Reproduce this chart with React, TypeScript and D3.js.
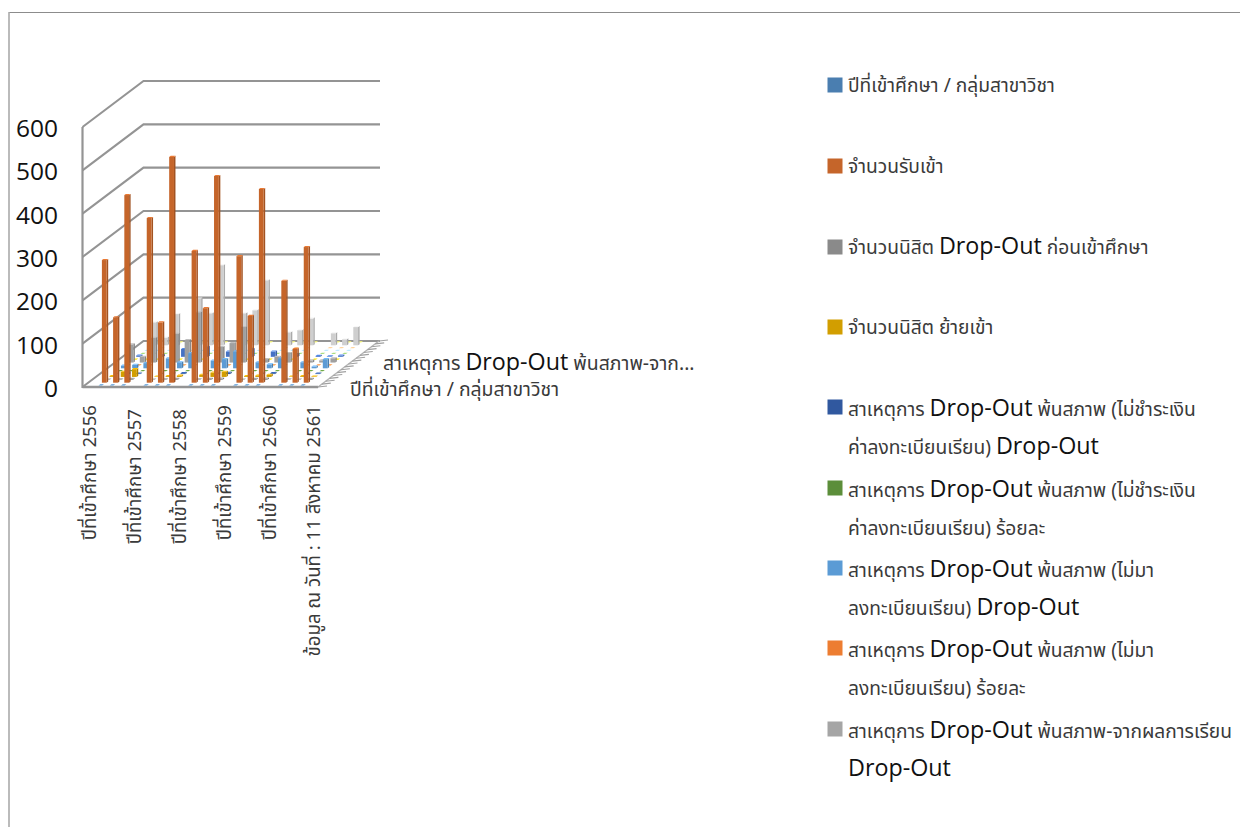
import React from "react";
import * as d3 from "d3";

const yTicks = [0, 100, 200, 300, 400, 500, 600];
const tickLabels = [
  "ปีที่เข้าศึกษา 2556",
  "ปีที่เข้าศึกษา 2557",
  "ปีที่เข้าศึกษา 2558",
  "ปีที่เข้าศึกษา 2559",
  "ปีที่เข้าศึกษา 2560",
  "ข้อมูล ณ วันที่ : 11 สิงหาคม 2561",
];
const labelCats = [0, 4, 8, 12, 16, 20];
const programCats = [1, 2, 3, 5, 6, 7, 9, 10, 11, 13, 14, 15, 17, 18, 19];

const legendNames = [
  ["ปีที่เข้าศึกษา / กลุ่มสาขาวิชา"],
  ["จำนวนรับเข้า"],
  ["จำนวนนิสิต Drop-Out ก่อนเข้าศึกษา"],
  ["จำนวนนิสิต ย้ายเข้า"],
  ["สาเหตุการ Drop-Out พ้นสภาพ (ไม่ชำระเงิน", "ค่าลงทะเบียนเรียน) Drop-Out"],
  ["สาเหตุการ Drop-Out พ้นสภาพ (ไม่ชำระเงิน", "ค่าลงทะเบียนเรียน) ร้อยละ"],
  ["สาเหตุการ Drop-Out พ้นสภาพ (ไม่มา", "ลงทะเบียนเรียน) Drop-Out"],
  ["สาเหตุการ Drop-Out พ้นสภาพ (ไม่มา", "ลงทะเบียนเรียน) ร้อยละ"],
  ["สาเหตุการ Drop-Out พ้นสภาพ-จากผลการเรียน", "Drop-Out"],
];
const legendY = [85, 166, 247, 327, 407, 488, 568, 648, 729];
const legendColors = ["#4A7EB0", "#C5652A", "#8A8A8A", "#D29E00", "#30589F", "#5C8E3A", "#5B9BD5", "#ED7D31", "#A5A5A5"];
const seriesColors = [
  "#4A7EB0", "#C5652A", "#8A8A8A", "#D29E00", "#30589F", "#5C8E3A", "#5B9BD5", "#ED7D31",
  "#A0A0A0", "#FFC000", "#4472C4", "#8DB96B", "#9DC3E6", "#F4B183", "#CFCFCF", "#FFD966",
];

const s0 = [0, 0, 0, 0, 0, 0, 0, 0, 0, 0, 0, 0, 0, 0, 0];
const s1 = [283, 151, 433, 380, 139, 521, 304, 172, 477, 292, 154, 447, 235, 78, 313];
const s2 = [0, 1, 2, 0, 1, 2, 1, 2, 3, 0, 2, 3, 1, 0, 2];
const s3 = [2, 12, 18, 1, 2, 3, 5, 10, 12, 2, 3, 5, 1, 2, 1];
const s4 = [0, 1, 1, 0, 1, 2, 0, 1, 3, 0, 1, 2, 0, 1, 1];
const s5 = [0, 0, 0, 0, 0, 0, 0, 0, 0, 0, 0, 0, 0, 0, 0];
const s6 = [6, 8, 12, 23, 14, 35, 18, 21, 39, 14, 9, 23, 14, 4, 21];
const s7 = [0, 0, 0, 0, 0, 0, 0, 0, 0, 0, 0, 0, 0, 0, 0];
const s8 = [42, 13, 57, 66, 52, 116, 36, 45, 82, 8, 13, 22, 5, 5, 10];
const s9 = [0, 0, 0, 0, 0, 0, 0, 0, 0, 0, 0, 0, 0, 0, 0];
const s10 = [3, 2, 4, 18, 8, 23, 12, 10, 18, 12, 4, 6, 2, 1, 3];
const s11 = [0, 0, 0, 0, 0, 0, 0, 0, 0, 0, 0, 0, 0, 0, 0];
const s12 = [0, 0, 0, 0, 0, 0, 0, 0, 0, 0, 0, 0, 0, 0, 0];
const s13 = [0, 0, 0, 0, 0, 0, 0, 0, 0, 0, 0, 0, 0, 0, 0];
const s14 = [53, 18, 72, 108, 74, 185, 74, 81, 150, 30, 35, 62, 28, 14, 42];
const s15 = [0, 0, 0, 0, 0, 0, 0, 0, 0, 0, 0, 0, 0, 0, 0];
const allSeries = [s0, s1, s2, s3, s4, s5, s6, s7, s8, s9, s10, s11, s12, s13, s14, s15];

const axisBottom = 387;
const xScale = d3.scaleBand<number>().domain(d3.range(21)).range([82.5, 318]);
const rowScale = d3.scaleBand<number>().domain(d3.range(16)).range([0, 1]);
const depthDx = d3.scaleLinear().domain([0, 1]).range([0, 61]);
const depthDy = d3.scaleLinear().domain([0, 1]).range([0, -46]);
const yH = d3.scaleLinear().domain([0, 600]).range([0, 260]);

const thaiFont = '"Noto Sans Thai", "Noto Sans", "Open Sans", "DejaVu Sans", sans-serif';
const latinFont = '"Open Sans", "Noto Sans", sans-serif';

function Rich({ text, x, y, size, latin }: { text: string; x: number; y: number; size: number; latin: number }) {
  const parts = text.split(/(Drop-Out)/).filter(Boolean);
  return (
    <text x={x} y={y} fontFamily={thaiFont} fontSize={size} fill="#3a3a3a">
      {parts.map((p, i) =>
        p === "Drop-Out" ? (
          <tspan key={i} fontFamily={latinFont} fontSize={latin} fill="#111">{p}</tspan>
        ) : (
          <tspan key={i}>{p}</tspan>
        )
      )}
    </text>
  );
}

function Bar({ c, r, v, color }: { c: number; r: number; v: number; color: string }) {
  const f = (rowScale(r) as number) + rowScale.bandwidth() / 2;
  const cx = (xScale(c) as number) + xScale.bandwidth() / 2 + depthDx(f);
  const by = axisBottom + depthDy(f);
  const w = v > 0 ? 4.8 : 3.6;
  const dx = v > 0 ? 1.5 : 1.8;
  const dy = v > 0 ? -1.1 : -1.3;
  const h = yH(v);
  const x0 = cx - w / 2 - dx / 2;
  const x1 = x0 + w;
  const col = d3.color(color)!;
  const top = by - h;
  return (
    <g>
      <polygon points={`${x1},${by} ${x1 + dx},${by + dy} ${x1 + dx},${top + dy} ${x1},${top}`} fill={col.darker(0.55).toString()} />
      <rect x={x0} y={top} width={w} height={h} fill={color} />
      <polygon points={`${x0},${top} ${x0 + dx},${top + dy} ${x1 + dx},${top + dy} ${x1},${top}`} fill={col.brighter(0.5).toString()} />
    </g>
  );
}

export default function App() {
  const gridColor = "#949494";
  const x0 = 82.5;
  const x1 = 318;
  const backDx = depthDx(1);
  const backDy = depthDy(1);
  const rowEdges = d3.range(0, 17);
  return (
    <svg width={1240} height={827} viewBox="0 0 1240 827" style={{ position: "absolute", left: 0, top: 0, background: "#fff" }}>
      <defs>
        <filter id="soft" x="-5%" y="-5%" width="110%" height="110%">
          <feGaussianBlur stdDeviation={0.35} />
        </filter>
      </defs>
      <line x1={9} y1={12.5} x2={1240} y2={12.5} stroke="#8c8c8c" strokeWidth={1.2} />
      <line x1={9} y1={12} x2={9} y2={827} stroke="#aaaaaa" strokeWidth={1.6} />

      {yTicks.map((t) => {
        const y = axisBottom - yH(t);
        return (
          <g key={t}>
            <polyline points={`${x0},${y} ${x0 + backDx},${y + backDy} ${x1 + backDx + 1},${y + backDy}`} fill="none" stroke={gridColor} strokeWidth={2.1} />
            <text x={58} y={y + 10} textAnchor="end" fontFamily={latinFont} fontSize={24.5} fill="#111">{t}</text>
          </g>
        );
      })}
      <line x1={x0} y1={axisBottom - yH(600)} x2={x0} y2={axisBottom + 1} stroke={gridColor} strokeWidth={2.2} />
      <line x1={x0} y1={axisBottom} x2={x1} y2={axisBottom} stroke={gridColor} strokeWidth={2.6} />
      <line x1={x1} y1={axisBottom} x2={x1 + backDx} y2={axisBottom + backDy} stroke="#b4b4b4" strokeWidth={1.4} />
      {rowEdges.map((e) => {
        const f = e / 16;
        const ex = x1 + depthDx(f);
        const ey = axisBottom + depthDy(f);
        return <line key={e} x1={ex} y1={ey} x2={ex + 9} y2={ey - 1} stroke="#a0a0a0" strokeWidth={1.1} />;
      })}

      <g filter="url(#soft)">
        {d3.range(15, -1, -1).map((r) => (
          <g key={r}>
            {programCats.map((c, i) => (
              <Bar key={c} c={c} r={r} v={allSeries[r][i]} color={seriesColors[r]} />
            ))}
          </g>
        ))}
      </g>

      {tickLabels.map((t, i) => {
        const c = labelCats[i];
        const x = (xScale(c) as number) + xScale.bandwidth() / 2 + 8;
        const shift = i === 1 || i === 2 ? 4 : 0;
        return (
          <text key={t} transform={`translate(${x},${405 + shift}) rotate(-90)`} textAnchor="end" fontFamily={thaiFont} fontSize={18.6} fill="#3a3a3a">{t}</text>
        );
      })}

      <Rich text="สาเหตุการ Drop-Out พ้นสภาพ-จาก..." x={383} y={370} size={19.4} latin={23.3} />
      <Rich text="ปีที่เข้าศึกษา / กลุ่มสาขาวิชา" x={350} y={396} size={19.4} latin={23.3} />

      {legendNames.map((lines, i) => (
        <g key={i}>
          <rect x={827.5} y={legendY[i] - 7.5} width={15} height={15} fill={legendColors[i]} />
          {lines.map((l, j) => (
            <Rich key={j} text={l} x={848} y={legendY[i] + (i >= 4 ? 8.5 : 7) + j * 38} size={19.2} latin={23.3} />
          ))}
        </g>
      ))}
    </svg>
  );
}
